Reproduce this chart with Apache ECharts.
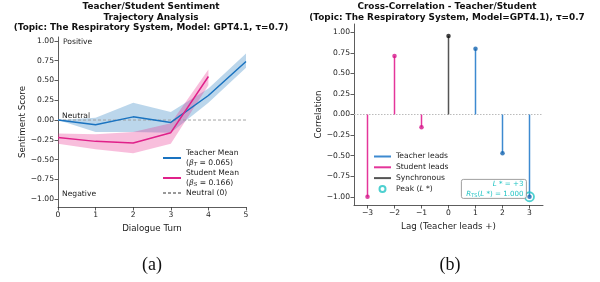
<!DOCTYPE html>
<html>
<head>
<meta charset="utf-8">
<script src="https://cdn.jsdelivr.net/npm/echarts@6/dist/echarts.min.js"></script>
<style>
  html, body { margin: 0; padding: 0; background: #fff; }
  #chart { width: 600px; height: 282px; }
</style>
</head>
<body>
<div id="chart"></div>
<script>
// left panel: sentiment per dialogue turn
var turns = [0, 1, 2, 3, 4, 5];
var teacherMean = [0.00, -0.06, 0.04, -0.03, 0.31, 0.74];
var teacherLo   = [0.00, -0.15, -0.15, -0.16, 0.22, 0.66];
var teacherHi   = [0.00, 0.03, 0.22, 0.10, 0.40, 0.84];
var studentTurns = [0, 1, 2, 3, 4];
var studentMean = [-0.22, -0.27, -0.29, -0.16, 0.55];
var studentLo   = [-0.30, -0.37, -0.42, -0.30, 0.44];
var studentHi   = [-0.17, -0.18, -0.15, -0.04, 0.64];
var sentTicks = [-1, -0.75, -0.5, -0.25, 0, 0.25, 0.5, 0.75, 1];

// right panel: cross-correlation by lag
var lags = [-3, -2, -1, 0, 1, 2, 3];
var corr = [-1.00, 0.71, -0.155, 0.955, 0.80, -0.47, -1.00];
var lagTicks = [-3, -2, -1, 0, 1, 2, 3];
var peakLag = 3;
var peakCorr = -1.00;

var FONT = 'DejaVu Sans';
var BLUE = '#1a73c0', PINK = '#e0218a', CYAN = '#22c4c4';

function fmt2(v) { return (v < 0 ? '\u2212' : '') + Math.abs(v).toFixed(2); }
function fmt0(v) { return (v < 0 ? '\u2212' : '') + Math.abs(v); }

function band(name, xs, lo, hi, color) {
    return {
        name: name, type: 'custom', xAxisIndex: 0, yAxisIndex: 0, silent: true, z: 1,
        data: xs.map(function (x, i) { return [x, lo[i], hi[i]]; }),
        encode: { x: 0, y: [1, 2] },
        renderItem: function (params, api) {
            if (params.dataIndex !== 0) return;
            var pts = [];
            for (var i = 0; i < xs.length; i++) pts.push(api.coord([xs[i], hi[i]]));
            for (var j = xs.length - 1; j >= 0; j--) pts.push(api.coord([xs[j], lo[j]]));
            return { type: 'polygon', shape: { points: pts }, style: { fill: color } };
        }
    };
}

// stems as broken polylines, one series per group
function stems(filter) {
    var d = [];
    lags.forEach(function (l, i) {
        if (!filter(l)) return;
        d.push([l, 0], [l, corr[i]], [l, '-']);
    });
    return d;
}
function tips(filter) {
    var d = [];
    lags.forEach(function (l, i) { if (filter(l)) d.push([l, corr[i]]); });
    return d;
}
var isStudent = function (l) { return l < 0; };
var isSync = function (l) { return l === 0; };
var isTeacher = function (l) { return l > 0; };

var tickStyle = { show: true, length: 3.5, lineStyle: { color: '#333', width: 0.8 } };
var lineStyleAx = { show: true, onZero: false, lineStyle: { color: '#333', width: 0.8 } };
var labelStyle = { fontSize: 7.6, color: '#222', fontFamily: FONT, margin: 4 };
var nameStyle = { fontSize: 8.7, color: '#222', fontFamily: FONT };
var noDot = { opacity: 0 };

function titleText(x, text) {
    return { type: 'text', x: x, y: 1.5,
             style: { text: text, align: 'center', verticalAlign: 'top', fontSize: 8.9, fontWeight: 'bold',
                      lineHeight: 10.5, fill: '#111', fontFamily: FONT } };
}

var chart = echarts.init(document.getElementById('chart'));
chart.setOption({
    animation: false,
    textStyle: { fontFamily: FONT },
    grid: [
        { left: 58, top: 37, width: 188, height: 170 },
        { left: 354, top: 24, width: 189, height: 181 }
    ],
    xAxis: [
        { type: 'value', gridIndex: 0, min: 0, max: 5, interval: 1,
          axisLine: lineStyleAx, axisTick: tickStyle, axisLabel: labelStyle, splitLine: { show: false },
          name: 'Dialogue Turn', nameLocation: 'middle', nameGap: 9, nameTextStyle: nameStyle },
        { type: 'value', gridIndex: 1, min: -3.5, max: 3.5,
          axisLine: lineStyleAx,
          axisTick: Object.assign({ customValues: lagTicks }, tickStyle),
          axisLabel: Object.assign({ customValues: lagTicks, formatter: fmt0 }, labelStyle),
          splitLine: { show: false },
          name: 'Lag (Teacher leads +)', nameLocation: 'middle', nameGap: 10, nameTextStyle: nameStyle }
    ],
    yAxis: [
        { type: 'value', gridIndex: 0, min: -1.1, max: 1.05,
          axisLine: lineStyleAx,
          axisTick: Object.assign({ customValues: sentTicks }, tickStyle),
          axisLabel: Object.assign({ customValues: sentTicks, formatter: fmt2 }, labelStyle),
          splitLine: { show: false },
          name: 'Sentiment Score', nameLocation: 'middle', nameGap: 31, nameTextStyle: nameStyle },
        { type: 'value', gridIndex: 1, min: -1.1, max: 1.1,
          axisLine: lineStyleAx,
          axisTick: Object.assign({ customValues: sentTicks }, tickStyle),
          axisLabel: Object.assign({ customValues: sentTicks, formatter: fmt2 }, labelStyle),
          splitLine: { show: false },
          name: 'Correlation', nameLocation: 'middle', nameGap: 28, nameTextStyle: nameStyle }
    ],
    legend: [
        { orient: 'vertical', left: 157, top: 144, padding: 5, itemWidth: 18, itemHeight: 6, itemGap: 1,
          data: [
              { name: 'Teacher Mean', itemStyle: noDot },
              { name: 'Student Mean', itemStyle: noDot },
              { name: 'Neutral (0)', itemStyle: noDot }
          ],
          formatter: function (name) {
              if (name === 'Teacher Mean') return '{n|Teacher Mean}\n{n|(}{i|\u03b2}{s|T}{n| = 0.065)}';
              if (name === 'Student Mean') return '{n|Student Mean}\n{n|(}{i|\u03b2}{s|S}{n| = 0.166)}';
              return '{n|' + name + '}';
          },
          textStyle: { rich: {
              n: { fontSize: 7.6, lineHeight: 10, color: '#222', fontFamily: FONT },
              i: { fontSize: 7.6, lineHeight: 10, color: '#222', fontStyle: 'italic', fontFamily: FONT },
              s: { fontSize: 5.5, lineHeight: 10, color: '#222', fontStyle: 'italic', verticalAlign: 'bottom', fontFamily: FONT }
          } } },
        { orient: 'vertical', left: 368, top: 147.5, padding: 5, itemWidth: 17, itemHeight: 6, itemGap: 2.8,
          data: [
              { name: 'Teacher leads', itemStyle: noDot },
              { name: 'Student leads', itemStyle: noDot },
              { name: 'Synchronous', itemStyle: noDot },
              { name: 'Peak (L*)' }
          ],
          formatter: function (name) {
              if (name === 'Peak (L*)') return '{n|Peak (}{i|L}{n| *)}';
              return '{n|' + name + '}';
          },
          textStyle: { rich: {
              n: { fontSize: 7.6, lineHeight: 9, color: '#222', fontFamily: FONT },
              i: { fontSize: 7.6, lineHeight: 9, color: '#222', fontStyle: 'italic', fontFamily: FONT }
          } } }
    ],
    series: [
        band('teacherBand', turns, teacherLo, teacherHi, 'rgba(31,119,190,0.3)'),
        band('studentBand', studentTurns, studentLo, studentHi, 'rgba(231,41,138,0.3)'),
        { name: 'Neutral (0)', type: 'line', xAxisIndex: 0, yAxisIndex: 0, symbol: 'none', z: 2,
          data: [[0, 0], [5, 0]],
          lineStyle: { color: '#999', width: 0.9, type: [3, 2] } },
        { name: 'Teacher Mean', type: 'line', xAxisIndex: 0, yAxisIndex: 0, symbol: 'none', z: 3,
          data: turns.map(function (t, i) { return [t, teacherMean[i]]; }),
          lineStyle: { color: BLUE, width: 1.5 }, itemStyle: { color: BLUE } },
        { name: 'Student Mean', type: 'line', xAxisIndex: 0, yAxisIndex: 0, symbol: 'none', z: 3,
          data: studentTurns.map(function (t, i) { return [t, studentMean[i]]; }),
          lineStyle: { color: PINK, width: 1.5 }, itemStyle: { color: PINK } },

        { name: 'zero', type: 'line', xAxisIndex: 1, yAxisIndex: 1, symbol: 'none', z: 1,
          data: [[-3.5, 0], [3.5, 0]],
          lineStyle: { color: '#bbb', width: 1, type: [1.5, 1.5] } },
        { name: 'Teacher leads', type: 'line', xAxisIndex: 1, yAxisIndex: 1, symbol: 'none', z: 2,
          data: stems(isTeacher), lineStyle: { color: '#3d8ad0', width: 1.5 }, itemStyle: { color: '#3d8ad0' } },
        { name: 'Student leads', type: 'line', xAxisIndex: 1, yAxisIndex: 1, symbol: 'none', z: 2,
          data: stems(isStudent), lineStyle: { color: '#e4359a', width: 1.5 }, itemStyle: { color: '#e4359a' } },
        { name: 'Synchronous', type: 'line', xAxisIndex: 1, yAxisIndex: 1, symbol: 'none', z: 2,
          data: stems(isSync), lineStyle: { color: '#555', width: 1.5 }, itemStyle: { color: '#111' } },
        { name: 'teacherTips', type: 'scatter', xAxisIndex: 1, yAxisIndex: 1, symbolSize: 4.5, z: 3,
          data: tips(isTeacher), itemStyle: { color: '#1565b0' } },
        { name: 'studentTips', type: 'scatter', xAxisIndex: 1, yAxisIndex: 1, symbolSize: 4.5, z: 3,
          data: tips(isStudent), itemStyle: { color: '#d6168b' } },
        { name: 'syncTips', type: 'scatter', xAxisIndex: 1, yAxisIndex: 1, symbolSize: 4.5, z: 3,
          data: tips(isSync), itemStyle: { color: '#111' } },
        { name: 'Peak (L*)', type: 'scatter', xAxisIndex: 1, yAxisIndex: 1, symbolSize: 9, z: 4,
          data: [[peakLag, peakCorr]],
          itemStyle: { color: 'rgba(0,0,0,0)', borderColor: CYAN, borderWidth: 1.8 } }
    ],
    graphic: [
        titleText(151, 'Teacher/Student Sentiment\nTrajectory Analysis\n(Topic: The Respiratory System, Model: GPT4.1, \u03c4=0.7)'),
        titleText(447, 'Cross-Correlation - Teacher/Student\n(Topic: The Respiratory System, Model=GPT4.1), \u03c4=0.7'),
        { type: 'text', left: 63, top: 38, style: { text: 'Positive', fontSize: 7.6, fill: '#222', fontFamily: FONT } },
        { type: 'text', left: 62, top: 112, style: { text: 'Neutral', fontSize: 7.6, fill: '#222', fontFamily: FONT } },
        { type: 'text', left: 62, top: 190, style: { text: 'Negative', fontSize: 7.6, fill: '#222', fontFamily: FONT } },
        { type: 'rect', left: 461, top: 179, z: 10,
          shape: { width: 65, height: 19, r: 2 },
          style: { fill: 'rgba(255,255,255,0.9)', stroke: '#888', lineWidth: 0.8 } },
        { type: 'text', x: 523.5, y: 179.5, z: 11,
          style: { text: '{i|L}{n| * = +3}\n{i|R}{s|TS}{n|(}{i|L}{n| *) = 1.000}', align: 'right',
                   rich: {
                       n: { fontSize: 7.1, lineHeight: 9.5, fill: CYAN, fontFamily: FONT },
                       i: { fontSize: 7.1, lineHeight: 9.5, fill: CYAN, fontStyle: 'italic', fontFamily: FONT },
                       s: { fontSize: 5, lineHeight: 9.5, fill: CYAN, verticalAlign: 'bottom', fontFamily: FONT }
                   } } },
        { type: 'text', x: 152, y: 265, style: { text: '(a)', fontSize: 18, fill: '#111', fontFamily: 'Liberation Serif', align: 'center', verticalAlign: 'middle' } },
        { type: 'text', x: 450, y: 265, style: { text: '(b)', fontSize: 18, fill: '#111', fontFamily: 'Liberation Serif', align: 'center', verticalAlign: 'middle' } }
    ]
});
</script>
</body>
</html>
